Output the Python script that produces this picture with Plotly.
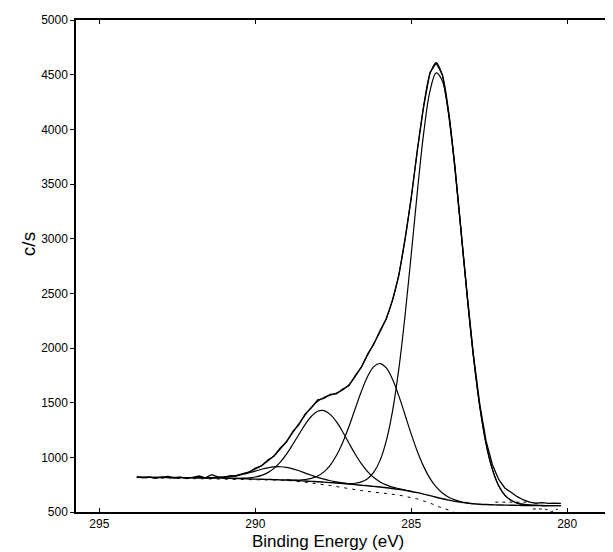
import numpy as np
import plotly.graph_objects as go

# binding energy grid used for the spectrum (eV, 0.2 eV steps, high -> low)
def grid(start, n):
    return np.round(start - 0.2 * np.arange(n), 1)

# raw spectrum (c/s), 293.8 -> 280.2 eV
raw_counts = [822, 812, 820, 808, 818, 826, 811, 818, 806, 817,
              829, 813, 842, 822, 818, 833, 829, 852, 862, 902,
              921, 975, 1010, 1085, 1140, 1236, 1300, 1398, 1452, 1525,
              1538, 1575, 1580, 1625, 1655, 1745, 1822, 1945, 2035, 2160,
              2265, 2440, 2660, 2995, 3370, 3820, 4210, 4520, 4605, 4500,
              4150, 3665, 3050, 2470, 1925, 1480, 1150, 935, 800, 720,
              680, 640, 610, 590, 580, 585, 578, 582, 578]

# fitted envelope, 293.8 -> 280.2 eV
fit_envelope = [818, 818, 817, 817, 816, 816, 815, 815, 814, 814,
                814, 813, 814, 816, 819, 826, 835, 849, 868, 893,
                926, 966, 1016, 1076, 1146, 1226, 1308, 1389, 1460, 1513,
                1548, 1568, 1588, 1616, 1663, 1738, 1829, 1934, 2041, 2149,
                2272, 2435, 2668, 2988, 3380, 3813, 4218, 4507, 4611, 4493,
                4159, 3657, 3060, 2459, 1910, 1462, 1124, 892, 743, 655,
                607, 581, 569, 563, 560, 559, 558, 558, 558]

# Shirley background, 293.8 -> 280.2 eV
background = [818, 818, 817, 817, 816, 816, 815, 815, 814, 814,
              813, 812, 811, 810, 809, 808, 806, 805, 803, 801,
              800, 798, 796, 794, 792, 789, 786, 783, 780, 777,
              773, 769, 765, 760, 755, 750, 745, 740, 734, 728,
              722, 715, 707, 698, 688, 677, 664, 650, 635, 621,
              608, 597, 588, 581, 575, 571, 568, 566, 564, 563,
              562, 561, 560, 560, 559, 559, 558, 558, 558]

# fitted components (on top of background)
c1_start = 287.0
c1 = [760, 763, 775, 805, 864, 972, 1150, 1423, 1804, 2293,
      2855, 3439, 3967, 4349, 4517, 4441, 4132, 3643, 3054, 2456,
      1909, 1462, 1124, 892, 743, 655, 607, 581, 569, 563,
      560, 559, 558]
c2_start = 289.0
c2 = [793, 792, 792, 797, 807, 829, 867, 927, 1016, 1134,
      1279, 1442, 1602, 1739, 1830, 1858, 1818, 1714, 1564, 1390,
      1212, 1051, 915, 808, 729, 673, 635, 611, 594, 584, 576]
c3_start = 291.0
c3 = [809, 809, 808, 809, 812, 820, 835, 860, 899, 956,
      1029, 1117, 1211, 1302, 1376, 1421, 1427, 1393, 1326, 1234,
      1131, 1031, 942, 870, 815, 775, 748, 728, 714, 701, 689]
c4_start = 292.0
c4 = [814, 814, 813, 814, 816, 819, 825, 833, 845, 859,
      874, 891, 904, 912, 914, 908, 895, 877, 856, 836,
      817, 800, 786, 775, 766, 758]

# dotted curve (pieces)
dot_e1 = [293.8, 289.0, 288.4, 287.6, 286.6, 286.0, 285.4, 284.8, 284.4, 284.1, 283.8, 283.5, 283.2]
dot_v1 = [815, 790, 772, 742, 696, 676, 655, 619, 582, 546, 518, 480, 440]
dot_e2 = [282.3, 281.3]
dot_v2 = [590, 590]
dot_e3 = [281.1, 280.7, 280.5, 280.3]
dot_v3 = [528, 527, 503, 527]

FONT = "Liberation Sans, Arial, sans-serif"
black = "#000000"

fig = go.Figure()

def line(x, y, width=1.2, dash=None, shape="spline"):
    fig.add_trace(go.Scatter(x=x, y=y, mode="lines",
                             line=dict(color=black, width=width, dash=dash, shape=shape),
                             showlegend=False, hoverinfo="skip"))

e = grid(293.8, len(raw_counts))
line(grid(c4_start, len(c4)), c4)
line(grid(c3_start, len(c3)), c3)
line(grid(c2_start, len(c2)), c2)
line(grid(c1_start, len(c1)), c1)
line(e, background, width=1.4)
line(dot_e1, dot_v1, width=1, dash="3px,5px", shape="linear")
line(dot_e2, dot_v2, width=1, dash="3px,4px", shape="linear")
line(dot_e3, dot_v3, width=1, dash="3px,3px", shape="linear")
line(e, fit_envelope, width=1.2)
line(e, raw_counts, width=1.3, shape="linear")

fig.add_annotation(text="Binding Energy (eV)", x=287.67, xref="x", y=0, yref="paper",
                   yanchor="top", yshift=-18, showarrow=False,
                   font=dict(family=FONT, size=17, color=black))
fig.add_annotation(text="c/s", x=0, xref="paper", xanchor="center", xshift=-48,
                   y=2950, yref="y", textangle=-90, showarrow=False,
                   font=dict(family=FONT, size=19, color=black))

# page body has an 8px margin, so the figure is sized/offset to compensate
fig.update_layout(
    width=605, height=544,
    margin=dict(l=68, r=0, t=12, b=40),
    paper_bgcolor="white", plot_bgcolor="white",
    font=dict(family=FONT, size=12, color=black),
    xaxis=dict(range=[295.75, 278.53], tickvals=[295, 290, 285, 280],
               ticks="inside", ticklen=4, tickwidth=1.2, tickcolor=black,
               showline=True, linewidth=2, linecolor=black, mirror="ticks",
               showgrid=False, zeroline=False, automargin=False,
               tickfont=dict(family=FONT, size=12, color=black)),
    yaxis=dict(range=[500, 5000], dtick=500, tick0=500,
               ticks="outside", ticklen=4, tickwidth=1.2, tickcolor=black,
               showline=True, linewidth=1.5, linecolor=black,
               showgrid=False, zeroline=False, automargin=False,
               tickfont=dict(family=FONT, size=12, color=black)),
)

fig.write_html("out.html")
